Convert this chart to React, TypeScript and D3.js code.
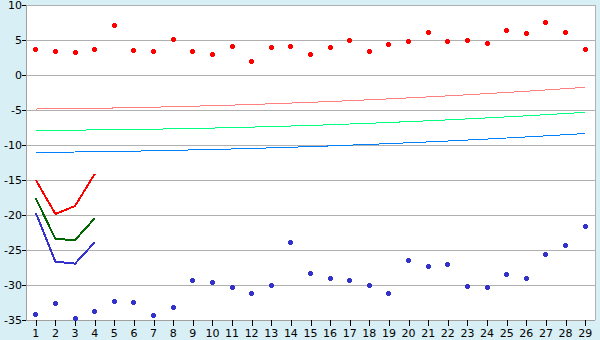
import React from "react";
import * as d3 from "d3";

const categories = Array.from({ length: 29 }, (_, i) => String(i + 1));
const yTicks = [10, 5, 0, -5, -10, -15, -20, -25, -30, -35];

const redPoints = [3.67, 3.38, 3.24, 3.67, 7.1, 3.52, 3.38, 5.1, 3.38, 3.0, 4.1, 1.95, 3.95, 4.1, 2.95, 3.95, 4.95, 3.38, 4.38, 4.81, 6.1, 4.81, 4.95, 4.52, 6.38, 5.95, 7.52, 6.1, 3.67];
const bluePoints = [-34.19, -32.62, -34.76, -33.76, -32.33, -32.48, -34.33, -33.19, -29.33, -29.62, -30.33, -31.19, -30.05, -23.9, -28.33, -29.05, -29.33, -30.05, -31.19, -26.48, -27.33, -27.05, -30.19, -30.33, -28.48, -29.05, -25.62, -24.33, -21.7];

const pinkTrend = [-4.86, -4.83, -4.8, -4.76, -4.71, -4.65, -4.6, -4.53, -4.46, -4.38, -4.3, -4.21, -4.11, -4.01, -3.9, -3.79, -3.67, -3.54, -3.41, -3.27, -3.13, -2.98, -2.82, -2.66, -2.49, -2.32, -2.14, -1.95, -1.76];
const greenTrend = [-7.9, -7.89, -7.87, -7.85, -7.82, -7.78, -7.74, -7.69, -7.62, -7.58, -7.52, -7.44, -7.37, -7.29, -7.2, -7.11, -7.0, -6.9, -6.78, -6.66, -6.54, -6.41, -6.27, -6.13, -5.98, -5.83, -5.67, -5.5, -5.33];
const blueTrend = [-11.05, -11.03, -11.0, -10.96, -10.92, -10.88, -10.82, -10.77, -10.7, -10.64, -10.57, -10.49, -10.41, -10.32, -10.23, -10.13, -10.02, -9.91, -9.8, -9.68, -9.56, -9.43, -9.29, -9.15, -9.0, -8.85, -8.69, -8.53, -8.36];

const redShort = [-15.0, -19.86, -18.71, -14.14];
const greenShort = [-17.62, -23.43, -23.57, -20.48];
const blueShort = [-19.71, -26.67, -26.95, -23.9];

const W = 600, H = 340;
const L = 26, R = 595, T = 5, B = 320;

const plusSymbol = {
  draw(ctx: any, size: number) {
    const a = 2.5, b = 1.5;
    ctx.moveTo(-b, -a); ctx.lineTo(b, -a); ctx.lineTo(b, -b); ctx.lineTo(a, -b);
    ctx.lineTo(a, b); ctx.lineTo(b, b); ctx.lineTo(b, a); ctx.lineTo(-b, a);
    ctx.lineTo(-b, b); ctx.lineTo(-a, b); ctx.lineTo(-a, -b); ctx.lineTo(-b, -b);
    ctx.closePath();
  },
};

export default function App() {
  const x = d3.scaleBand<string>().domain(categories).range([L, R]).padding(0);
  const cx = (i: number) => (x(categories[i]) as number) + x.bandwidth() / 2;
  const y = d3.scaleLinear().domain([-35, 10]).range([B, T]);
  const line = d3.line<number>().x((_, i) => cx(i)).y((d) => y(d));
  const sym = d3.symbol().type(plusSymbol as any)();
  const font = "'DejaVu Sans', Verdana, sans-serif";
  const snap = (v: number) => Math.round(v - 0.5) + 0.5;

  return (
    <svg width={W} height={H} style={{ position: "absolute", left: 0, top: 0 }}>
      <rect x={0} y={0} width={W} height={H} fill="#d9eff6" />
      <rect x={L} y={T} width={R - L} height={B - T} fill="#ffffff" />
      {yTicks.map((t) => (
        <line key={"g" + t} x1={L} x2={R} y1={y(t)} y2={y(t)} stroke="#b0b0b0" strokeWidth={1} shapeRendering="crispEdges" />
      ))}
      <line x1={R} x2={R} y1={T} y2={B} stroke="#b0b0b0" shapeRendering="crispEdges" />
      <line x1={L} x2={L} y1={T} y2={B} stroke="#a0a0a0" shapeRendering="crispEdges" />
      <line x1={L} x2={R} y1={B} y2={B} stroke="#a0a0a0" shapeRendering="crispEdges" />
      {yTicks.map((t) => (
        <g key={"yt" + t}>
          <line x1={L - 4} x2={L} y1={y(t)} y2={y(t)} stroke="#000" shapeRendering="crispEdges" />
          <text x={L - 4} y={y(t)} dy="0.36em" textAnchor="end" fontFamily={font} fontSize={11} fill="#000">{t}</text>
        </g>
      ))}
      {categories.map((c, i) => (
        <g key={"xt" + c}>
          <line x1={Math.round(cx(i)) + 0.5} x2={Math.round(cx(i)) + 0.5} y1={B} y2={B + 6} stroke="#000" />
          <text x={cx(i)} y={337} textAnchor="middle" fontFamily={font} fontSize={11} fill="#000">{c}</text>
        </g>
      ))}
      <path d={line(pinkTrend) || ""} fill="none" stroke="#ff8080" strokeWidth={1} shapeRendering="crispEdges" />
      <path d={line(greenTrend) || ""} fill="none" stroke="#00ff80" strokeWidth={1} shapeRendering="crispEdges" />
      <path d={line(blueTrend) || ""} fill="none" stroke="#0080ff" strokeWidth={1} shapeRendering="crispEdges" />
      <path d={line(redShort) || ""} fill="none" stroke="#ff0000" strokeWidth={2} shapeRendering="crispEdges" />
      <path d={line(greenShort) || ""} fill="none" stroke="#006600" strokeWidth={2} shapeRendering="crispEdges" />
      <path d={line(blueShort) || ""} fill="none" stroke="#3333cc" strokeWidth={2} shapeRendering="crispEdges" />
      {redPoints.map((v, i) => (
        <path key={"r" + i} d={sym || ""} transform={`translate(${snap(cx(i))},${snap(y(v))})`} fill="#ff0000" shapeRendering="crispEdges" />
      ))}
      {bluePoints.map((v, i) => (
        <path key={"b" + i} d={sym || ""} transform={`translate(${snap(cx(i))},${snap(y(v))})`} fill="#3333cc" shapeRendering="crispEdges" />
      ))}
    </svg>
  );
}
